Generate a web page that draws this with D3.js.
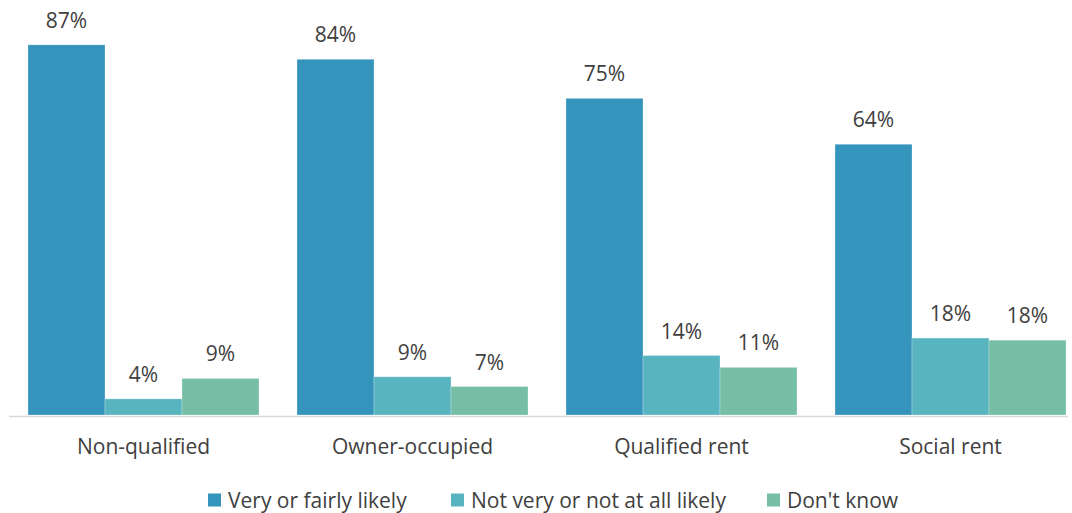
<!DOCTYPE html>
<html><head><meta charset="utf-8">
<script src="https://cdn.jsdelivr.net/npm/d3@7"></script>
<style>body{margin:0;background:#fff}svg{display:block}</style>
</head><body><svg id="c" width="1072" height="513"></svg>
<script>
const categories = ["Non-qualified","Owner-occupied","Qualified rent","Social rent"];
const seriesNames = ["Very or fairly likely","Not very or not at all likely","Don't know"];
const veryLikely = [87.1,83.7,74.5,63.7];
const notLikely = [3.8,9.0,14.0,18.1];
const dontKnow = [8.6,6.7,11.2,17.6];
const colors = ["#3594BC","#58B5C0","#76BFA6"];
const seriesVals = [veryLikely, notLikely, dontKnow];

const svg = d3.select("#c");
const font = "'Open Sans', sans-serif";
const textColor = "#404040";
const fs = 21;
const baseY = 415;
const y = d3.scaleLinear().domain([0,100]).range([baseY,-10]);
const x0 = d3.scaleBand().domain(categories).range([9,1085]).paddingInner(0.1413).paddingOuter(0.0706);
const x1 = d3.scaleBand().domain(seriesNames).range([0,x0.bandwidth()]);

const data = categories.map((c,i)=>({cat:c, vals: seriesNames.map((s,j)=>({s, v:seriesVals[j][i], color:colors[j]}))}));

svg.append("line").attr("x1",9).attr("x2",1068).attr("y1",baseY+1.5).attr("y2",baseY+1.5)
  .attr("stroke","#d9d9d9").attr("stroke-width",1.5);

const g = svg.selectAll("g.grp").data(data).join("g").attr("class","grp").attr("transform",d=>`translate(${x0(d.cat)},0)`);
g.selectAll("rect").data(d=>d.vals).join("rect")
  .attr("x",d=>x1(d.s)).attr("width",x1.bandwidth())
  .attr("y",d=>y(d.v)).attr("height",d=>baseY-y(d.v))
  .attr("fill",d=>d.color).attr("stroke","rgba(255,255,255,0.25)").attr("stroke-width",1);
g.selectAll("text").data(d=>d.vals).join("text")
  .attr("x",d=>x1(d.s)+x1.bandwidth()/2).attr("y",d=>y(d.v)-17)
  .attr("text-anchor","middle").attr("font-family",font).attr("font-size",fs).attr("fill",textColor)
  .text(d=>Math.round(d.v)+"%");

const xAxis = d3.axisBottom(x0).tickSize(0).tickPadding(0);
const ax = svg.append("g").attr("transform",`translate(0,${baseY})`).call(xAxis);
ax.select(".domain").remove();
ax.selectAll("text").attr("font-family",font).attr("font-size",fs).attr("fill",textColor).attr("dy",null).attr("y",39);

const legX = [208,451,767];
const leg = svg.selectAll("g.leg").data(seriesNames).join("g").attr("class","leg")
  .attr("transform",(d,i)=>`translate(${legX[i]},500)`);
leg.append("rect").attr("x",0).attr("y",-6.5).attr("width",13).attr("height",13).attr("fill",(d,i)=>colors[i]);
leg.append("text").attr("x",20).attr("y",7.5).attr("font-family",font).attr("font-size",fs).attr("fill",textColor).text(d=>d);
</script></body></html>
